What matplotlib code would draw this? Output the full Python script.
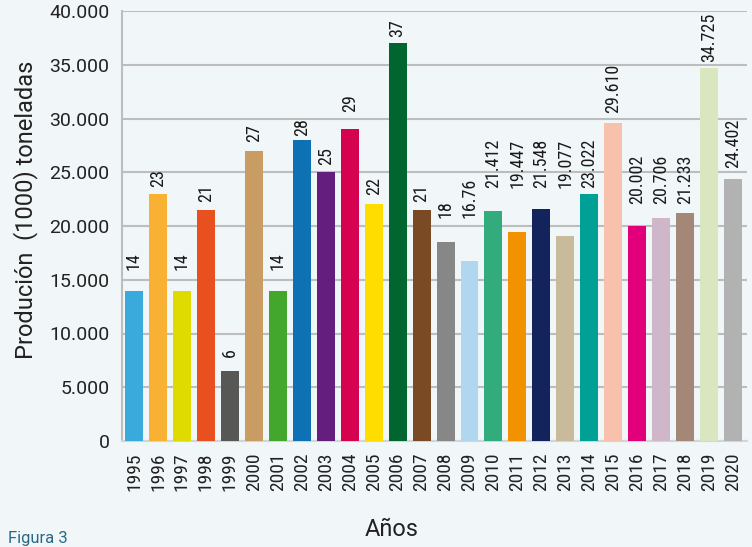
import matplotlib
matplotlib.use("Agg")
import matplotlib.pyplot as plt
from matplotlib import font_manager

years = [str(y) for y in range(1995, 2021)]
# bar heights (toneladas x 1000 -> plotted in units of 1)
production = [14000, 23000, 14000, 21500, 6500, 27000, 14000, 28000, 25000, 29000,
              22000, 37000, 21500, 18500, 16760, 21412, 19447, 21548, 19077, 23022,
              29610, 20002, 20706, 21233, 34725, 24402]
value_labels = ["14", "23", "14", "21", "6", "27", "14", "28", "25", "29",
                "22", "37", "21", "18", "16.76", "21.412", "19.447", "21.548", "19.077", "23.022",
                "29.610", "20.002", "20.706", "21.233", "34.725", "24.402"]
bar_colors = ["#3AAADC", "#F8B133", "#DFDB00", "#E8501F", "#575756", "#C89C63",
              "#43A72E", "#0E71B3", "#641E7E", "#D5034F", "#FFDD00", "#00652E",
              "#7A4A24", "#878787", "#B0D6F0", "#32AB7D", "#F39200", "#13235B",
              "#C9BA9B", "#00A096", "#F8C1AC", "#E2007A", "#D0B6C9", "#A38877",
              "#DAE6BF", "#B2B2B2"]

# where the value labels sit (bottom of the rotated text), as in the original layout
label_y = [15900, 23600, 15900, 22200, 7800, 27800, 15900, 28400, 25700, 30600,
           22900, 37600, 22200, 20700, 20700, 23500, 23500, 23500, 23500, 23500,
           30500, 22000, 22000, 22000, 35300, 25400]

names = {f.name for f in font_manager.fontManager.ttflist}
narrow = "DejaVu Sans"
for cand in ["Roboto Condensed", "Liberation Sans Narrow", "DejaVu Sans Condensed"]:
    if cand in names:
        narrow = cand
        break

bg = "#F1F7F9"
grid_c = "#BDBDBD"

fig = plt.figure(figsize=(7.52, 5.47), dpi=100, facecolor=bg)
ax = fig.add_axes([122 / 752, 1 - 441 / 547, 625 / 752, 430 / 547])
ax.set_facecolor(bg)

x = range(len(years))
ax.bar(x, production, width=0.75, color=bar_colors, zorder=3)

for i, (lab, ly) in enumerate(zip(value_labels, label_y)):
    ax.text(i, ly, lab, rotation=90, ha="center", va="bottom",
            fontsize=13, family=narrow, color="#1a1a1a", zorder=4)

ax.set_ylim(0, 40000)
ax.set_xlim(-0.5, 25.58)
ax.set_yticks(range(0, 40001, 5000))
ax.set_yticklabels(["0" if v == 0 else f"{v // 1000}.000" for v in range(0, 40001, 5000)],
                   family="Roboto", fontsize=14, color="#222222")
ax.set_xticks(list(x))
ax.set_xticklabels(years, rotation=90, family=narrow, fontsize=14, color="#222222")
ax.tick_params(axis="both", length=0)
ax.tick_params(axis="y", pad=9)
ax.tick_params(axis="x", pad=8)

ax.yaxis.grid(True, color=grid_c, linewidth=1.5, zorder=0)
for s in ["top", "right"]:
    ax.spines[s].set_visible(False)
ax.spines["left"].set_color(grid_c)
ax.spines["left"].set_linewidth(1.5)
ax.spines["bottom"].set_color("#D0D6D8")
ax.spines["bottom"].set_linewidth(1.5)

fig.text(26 / 752, 1 - 210 / 547, "Produción  (1000) toneladas", rotation=90,
         ha="center", va="center", family="Roboto", fontsize=17, color="#222222")
fig.text(392 / 752, 1 - 530 / 547, "Años", ha="center", va="center",
         family="Roboto", fontsize=17, color="#222222")
fig.text(8 / 752, 1 - 546 / 547, "Figura 3", ha="left", va="bottom",
         family="Roboto", fontsize=12, color="#2A6A85")

fig.savefig("out.png", dpi=100, facecolor=bg)
